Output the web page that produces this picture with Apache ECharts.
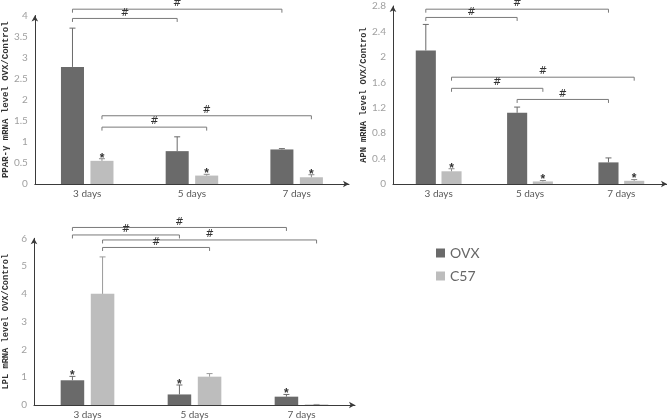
<!DOCTYPE html>
<html><head><meta charset="utf-8">
<script src="https://cdn.jsdelivr.net/npm/echarts@6/dist/echarts.min.js"></script>
<style>html,body{margin:0;padding:0;background:#fff}#c{width:667px;height:420px}</style>
</head><body><div id="c"></div>
<script>
const categories = ['3 days', '5 days', '7 days'];
const seriesNames = ['OVX', 'C57'];

// Panel 1: PPAR-γ
const pparOVX = [2.78, 0.78, 0.82];
const pparOVXErr = [3.70, 1.12, 0.84];
const pparC57 = [0.55, 0.20, 0.16];
const pparC57Err = [0.60, 0.23, 0.22];
const pparStarsOVX = [0, 0, 0];
const pparStarsC57 = [1, 1, 1];
// [fromCategory, fromSeries, toCategory, toSeries, level]
const pparBrackets = [[0,0,2,0,4.15],[0,0,1,0,3.93],[0,1,2,1,1.62],[0,1,1,1,1.35]];

// Panel 2: APN
const apnOVX = [2.10, 1.12, 0.34];
const apnOVXErr = [2.51, 1.21, 0.41];
const apnC57 = [0.20, 0.04, 0.05];
const apnC57Err = [0.24, 0.055, 0.07];
const apnStarsOVX = [0, 0, 0];
const apnStarsC57 = [1, 1, 1];
const apnBrackets = [[0,0,2,0,2.75],[0,0,1,0,2.62],[0,1,2,1,1.68],[0,1,1,1,1.505],[1,0,2,0,1.33]];

// Panel 3: LPL
const lplOVX = [0.89, 0.38, 0.30];
const lplOVXErr = [1.03, 0.72, 0.38];
const lplC57 = [4.00, 1.02, 0.02];
const lplC57Err = [5.33, 1.13, 0.02];
const lplStarsOVX = [1, 1, 1];
const lplStarsC57 = [0, 0, 0];
const lplBrackets = [[0,0,2,0,6.39],[0,0,1,0,6.12],[0,1,2,1,5.94],[0,1,1,1,5.67]];

const BAR_FRAC = 0.22, GAP_FRAC = 0.28;
const OVX_COLOR = '#6a6a6a', C57_COLOR = '#bdbdbd';

function offsetFor(api, ser) {
  const band = api.size([1, 0])[0];
  const bw = band * BAR_FRAC, gap = bw * GAP_FRAC;
  return (ser ? 1 : -1) * (bw + gap) / 2;
}

function barSeries(gi, name, values, color) {
  return {
    type: 'bar', name: name, xAxisIndex: gi, yAxisIndex: gi,
    data: values, barWidth: (BAR_FRAC * 100) + '%', barGap: (GAP_FRAC * 100) + '%',
    itemStyle: { color: color }, silent: true
  };
}

function errSeries(gi, values, errs, stars, ser, color) {
  return {
    type: 'custom', xAxisIndex: gi, yAxisIndex: gi, z: 3, silent: true,
    data: values.map((v, i) => [i, v, errs[i], stars[i]]),
    renderItem(params, api) {
      const off = offsetFor(api, ser);
      const p0 = api.coord([api.value(0), api.value(1)]);
      const p1 = api.coord([api.value(0), api.value(2)]);
      const x = p0[0] + off;
      const children = [
        { type: 'line', shape: { x1: x, y1: p0[1], x2: x, y2: p1[1] }, style: { stroke: color, lineWidth: 1 } },
        { type: 'line', shape: { x1: x - 3, y1: p1[1], x2: x + 3, y2: p1[1] }, style: { stroke: color, lineWidth: 1 } }
      ];
      if (api.value(3)) {
        children.push({ type: 'text', x: x, y: p1[1] - 0.5,
          style: { text: '*', fontSize: 12, fontWeight: 'bold', fill: '#333', align: 'center', verticalAlign: 'middle', fontFamily: 'Liberation Sans' } });
      }
      return { type: 'group', children: children };
    }
  };
}

function bracketSeries(gi, brackets) {
  return {
    type: 'custom', xAxisIndex: gi, yAxisIndex: gi, z: 4, clip: false, silent: true,
    data: brackets, encode: { x: 0, y: 4 },
    renderItem(params, api) {
      const y = api.coord([0, api.value(4)])[1];
      const x1 = api.coord([api.value(0), 0])[0] + offsetFor(api, api.value(1));
      const x2 = api.coord([api.value(2), 0])[0] + offsetFor(api, api.value(3));
      return { type: 'group', children: [
        { type: 'polyline', shape: { points: [[x1, y + 3.5], [x1, y], [x2, y], [x2, y + 3.5]] },
          style: { stroke: '#7a7a7a', lineWidth: 1, fill: null } },
        { type: 'text', x: (x1 + x2) / 2, y: y - 0.5,
          style: { text: '#', fontSize: 10, fill: '#333', align: 'center', verticalAlign: 'bottom', fontFamily: 'DejaVu Sans' } }
      ] };
    }
  };
}

const axisLineStyle = { color: '#3a3a3a', width: 1 };

function xAxis(gi) {
  return {
    type: 'category', gridIndex: gi, data: categories,
    axisLine: { show: true, lineStyle: axisLineStyle, symbol: ['none', 'arrow'], symbolSize: [5, 6] },
    axisTick: { show: false },
    axisLabel: { color: '#595959', fontSize: 10, margin: 5, fontFamily: 'Lato' },
    splitLine: { show: false }
  };
}

function yAxis(gi, max, interval, name, size) {
  return {
    type: 'value', gridIndex: gi, min: 0, max: max, interval: interval,
    name: name, nameLocation: 'middle', nameRotate: 90, nameGap: 24,
    nameTextStyle: { fontFamily: 'Liberation Mono', fontSize: size, fontWeight: 'bold', color: '#333' },
    axisLine: { show: true, lineStyle: axisLineStyle, symbol: ['none', 'arrow'], symbolSize: [5, 6] },
    axisTick: { show: false },
    axisLabel: { color: '#a0a0a0', fontSize: 10, margin: 7, fontFamily: 'Lato' },
    splitLine: { show: false }
  };
}

const chart = echarts.init(document.getElementById('c'), null, { renderer: 'canvas' });
chart.setOption({
  animation: false,
  backgroundColor: '#fff',
  grid: [
    { left: 34, top: 15.5, width: 315, height: 168.5 },
    { left: 393, top: 6, width: 274, height: 178 },
    { left: 34, top: 238.3, width: 321, height: 169 }
  ],
  legend: {
    data: seriesNames, orient: 'vertical', left: 431, top: 241,
    itemWidth: 9, itemHeight: 9, itemGap: 9, icon: 'rect',
    textStyle: { fontSize: 14, color: '#666', fontFamily: 'Lato', lineHeight: 14 },
    selectedMode: false
  },
  xAxis: [xAxis(0), xAxis(1), xAxis(2)],
  yAxis: [
    yAxis(0, 4, 0.5, 'PPAR-γ mRNA level OVX/Control', 9),
    yAxis(1, 2.8, 0.4, 'APN mRNA level OVX/Control', 8.7),
    yAxis(2, 6, 1, 'LPL mRNA level OVX/Control', 8.7)
  ],
  series: [
    barSeries(0, seriesNames[0], pparOVX, OVX_COLOR),
    barSeries(0, seriesNames[1], pparC57, C57_COLOR),
    errSeries(0, pparOVX, pparOVXErr, pparStarsOVX, 0, '#6a6a6a'),
    errSeries(0, pparC57, pparC57Err, pparStarsC57, 1, '#8a8a8a'),
    bracketSeries(0, pparBrackets),

    barSeries(1, seriesNames[0], apnOVX, OVX_COLOR),
    barSeries(1, seriesNames[1], apnC57, C57_COLOR),
    errSeries(1, apnOVX, apnOVXErr, apnStarsOVX, 0, '#6a6a6a'),
    errSeries(1, apnC57, apnC57Err, apnStarsC57, 1, '#8a8a8a'),
    bracketSeries(1, apnBrackets),

    barSeries(2, seriesNames[0], lplOVX, OVX_COLOR),
    barSeries(2, seriesNames[1], lplC57, C57_COLOR),
    errSeries(2, lplOVX, lplOVXErr, lplStarsOVX, 0, '#6a6a6a'),
    errSeries(2, lplC57, lplC57Err, lplStarsC57, 1, '#9a9a9a'),
    bracketSeries(2, lplBrackets)
  ]
});
</script>
</body></html>
